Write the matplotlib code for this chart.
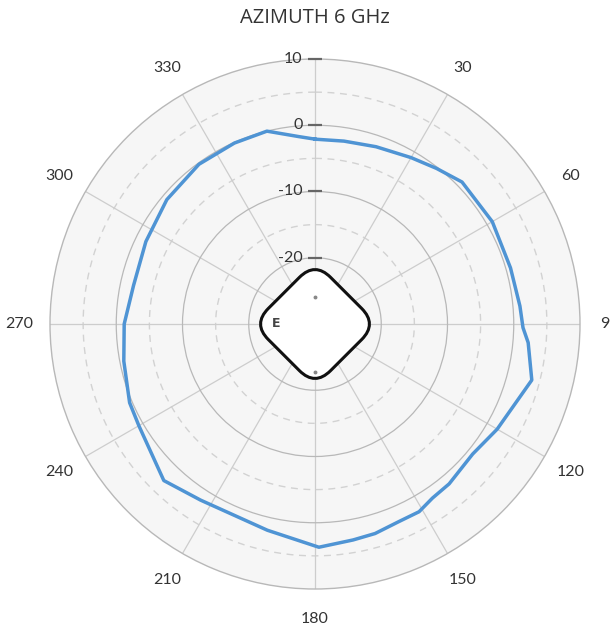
import numpy as np
import matplotlib
matplotlib.use("Agg")
import matplotlib.pyplot as plt
from matplotlib.patches import FancyBboxPatch
from matplotlib.transforms import Affine2D

plt.rcParams["font.family"] = ["Lato", "DejaVu Sans"]

# Measured azimuth gain pattern at 6 GHz (degrees clockwise from front, dBi)
azimuth_deg = [0, 9, 19, 30, 38, 46, 60, 74, 85, 91, 95, 104.5, 120, 129.5,
               140, 146, 151, 157, 164, 170, 179, 193, 213, 224, 240, 247,
               259, 270, 282, 296, 310, 324, 336, 346, 355]
gain_db = [-2.1, -2.05, -1.7, -1.0, -0.2, 0.85, 0.9, 0.7, 1.05, 1.4, 2.3, 3.8,
           1.75, 0.85, 1.5, 1.7, 2.4, 2.4, 2.9, 3.1, 3.7, 1.95, 1.7, 2.85,
           0.7, 0.4, -0.6, -1.2, -2.0, -1.6, -0.8, -0.2, -0.1, 0.0, -1.6]

radial_ticks = [-20, -10, 0, 10]
radial_minor = [-25, -15, -5, 5]
angle_ticks = [30, 60, 90, 120, 150, 180, 210, 240, 270, 300, 330]
angle_labels = ["30", "60", "9", "120", "150", "180", "210", "240", "270", "300", "330"]
title = "AZIMUTH 6 GHz"

R_MIN, R_MAX = -30, 10
TEXT = "#333333"
GRID = "#b8b8b8"
GRID_MINOR = "#d2d2d2"
BLUE = "#4f94d4"

W, H = 610, 632
fig = plt.figure(figsize=(W / 100, H / 100), dpi=100)
fig.patch.set_facecolor("white")

cx, cy, rad = 315, 324, 265
ax = fig.add_axes([(cx - rad) / W, (H - cy - rad) / H, 2 * rad / W, 2 * rad / H],
                  projection="polar")
ax.set_theta_zero_location("N")
ax.set_theta_direction(-1)
ax.set_ylim(R_MIN, R_MAX)
ax.set_facecolor("#f6f6f6")

# grid: solid rings every 10 dB, dashed rings halfway, spokes every 30 deg
ax.set_rgrids([-20, -10, 0], labels=[])
ax.set_thetagrids(range(0, 360, 30), labels=[])
ax.grid(True, color=GRID, lw=0.9)
for gl in ax.xaxis.get_gridlines():
    gl.set_color("#cdcdcd")
ax.spines["polar"].set_color(GRID)
ax.spines["polar"].set_linewidth(1.0)
ax.tick_params(length=0)

ring = np.linspace(0, 2 * np.pi, 361)
for r in radial_minor:
    ax.plot(ring, np.full_like(ring, r), color=GRID_MINOR, lw=1.0,
            ls=(0, (5, 4)), zorder=1)

# gain trace
th = np.deg2rad(azimuth_deg + [azimuth_deg[0]])
g = gain_db + [gain_db[0]]
ax.plot(th, g, color=BLUE, lw=2.5, zorder=4, solid_joinstyle="round")

# device outline at the centre
a = 44 / (2 * rad)
rc = 22 / (2 * rad)
body = FancyBboxPatch((0.5 - a, 0.5 - a), 2 * a, 2 * a,
                      boxstyle=f"round,pad=0,rounding_size={rc}",
                      transform=Affine2D().rotate_deg_around(0.5, 0.5, 45) + ax.transAxes,
                      facecolor="white", edgecolor="#111111", lw=2.2, zorder=3)
ax.add_patch(body)
ax.plot([0, np.pi], [-25.9, -22.8], ls="none", marker="o", ms=1.8,
        color="#888888", zorder=5)
ax.text(np.deg2rad(270), -24.2, "E", fontsize=9, fontweight="bold",
        family=["DejaVu Sans"], color="#444444", ha="center", va="center",
        zorder=5)

# radial labels with small tick dashes along the 0 deg spoke
ax.plot([0] * len(radial_ticks), radial_ticks, ls="none", marker="_",
        ms=10.5, mew=1.6, color="#666666", zorder=6, clip_on=False)
for r in radial_ticks:
    ax.annotate(str(r), xy=(0, r), xytext=(-9, 0), textcoords="offset points",
                ha="right", va="center", fontsize=11.5, color=TEXT,
                annotation_clip=False, zorder=6)

# angle labels outside the plot
for ang, lab in zip(angle_ticks, angle_labels):
    if ang == 90:
        fig.text(600 / W, 1 - cy / H, lab, ha="left", va="center",
                 fontsize=11.5, color=TEXT)
        continue
    ax.text(np.deg2rad(ang), 14.6, lab, ha="center", va="center",
            fontsize=11.5, color=TEXT, clip_on=False)

fig.text(cx / W, 1 - 18 / H, title, ha="center", va="center",
         fontsize=14.5, color=TEXT, family=["Open Sans", "DejaVu Sans"])

fig.savefig("out.png", dpi=100)
